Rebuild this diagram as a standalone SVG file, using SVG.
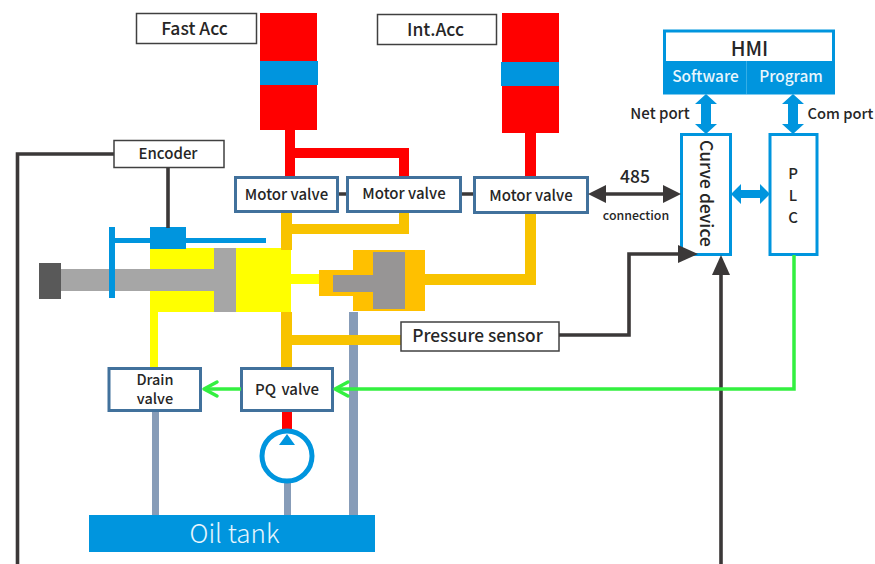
<svg xmlns="http://www.w3.org/2000/svg" width="875" height="564" viewBox="0 0 875 564">
<style>
text{font-family:"Noto Sans CJK SC","Noto Sans",sans-serif;fill:#262626;text-anchor:middle;font-weight:500}
.bx{fill:#fff;stroke:#404040;stroke-width:1.5}
.mv{fill:#fff;stroke:#41719c;stroke-width:3}
.bl{fill:#fff;stroke:#0095de;stroke-width:3}
.dk{fill:none;stroke:#3b3838;stroke-width:3.600}
.gr{fill:none;stroke:#33f040;stroke-width:3.500}
.or{fill:#f8c300}.re{fill:#f00}.ye{fill:#ff0}.gp{fill:#879cb8}.bu{fill:#0095de}.da{fill:#3b3838}
</style>
<rect width="875" height="564" fill="#fff"/>
<g id="fast-acc-cylinder"><rect class="re" x="260" y="13" width="57" height="117"/><rect class="bu" x="260" y="61" width="58" height="24"/></g>
<g id="int-acc-cylinder"><rect class="re" x="502" y="13" width="57" height="120"/><rect class="bu" x="501" y="62" width="58" height="24"/></g>
<g id="fast-acc"><rect class="bx" x="136.500" y="13.500" width="120" height="30"/><text x="194.500" y="34.500" font-size="17.500">Fast Acc</text></g>
<g id="int-acc"><rect class="bx" x="377.500" y="14.500" width="119" height="30"/><text x="435.500" y="35.500" font-size="17.500">Int.Acc</text></g>
<g id="main-cylinder">
<rect class="ye" x="150" y="248" width="141" height="64"/>
<rect x="291" y="274" width="30" height="10" class="ye"/>
<rect x="214" y="248" width="22" height="64" fill="#a6a6a6"/>
<rect x="61" y="269" width="153" height="22" fill="#a6a6a6"/>
<rect x="39" y="263" width="22" height="36" fill="#595959"/>
<rect class="bu" x="115" y="238" width="151" height="5"/>
<rect class="bu" x="109" y="227" width="6" height="71"/>
<rect class="bu" x="150" y="227" width="36" height="22"/>
</g>
<g id="small-cylinder">
<path fill="#ffc000" d="M319 270H353V250H425V311H353V296H319Z"/>
<path fill="#979595" d="M373 252H405V309H373V292H333V275H373Z"/>
</g>
<g id="connectors">
<path class="dk" d="M114 154H17.500V564"/>
<path class="dk" d="M168 167V228"/>
<path class="dk" d="M338 194H347M461 194H474"/>
<rect class="re" x="285" y="130" width="10" height="47"/>
<path class="re" d="M295 148H409V177H399V158H295Z"/>
<rect class="re" x="525" y="130" width="11" height="47"/>
<rect class="gp" x="349" y="312" width="9" height="203"/>
<path class="or" d="M281 212H292V224H399V212H409V234H292V250H281Z"/>
<path class="or" d="M281 312H292V335H401V345H292V368H281Z"/>
<path class="or" d="M425 274H525V212H536V285H425Z"/>
<rect class="ye" x="150" y="312" width="8" height="56"/>
<rect class="re" x="282" y="411" width="10" height="21"/>
<rect class="gp" x="152" y="411" width="7" height="104"/>
<rect class="gp" x="284" y="481" width="7" height="34"/>
</g>
<g id="encoder"><rect class="bx" x="114" y="140.500" width="110" height="27"/><text x="168" y="159" font-size="15">Encoder</text></g>
<g id="motor-valve-1"><rect class="mv" x="235.500" y="177.500" width="102" height="34"/><text x="286.500" y="200" font-size="15">Motor valve</text></g>
<g id="motor-valve-2"><rect class="mv" x="347.500" y="177.500" width="113" height="34"/><text x="404" y="199" font-size="15">Motor valve</text></g>
<g id="motor-valve-3"><rect class="mv" x="474.500" y="177.500" width="113" height="35"/><text x="531" y="201" font-size="15">Motor valve</text></g>
<g id="pressure-sensor"><rect class="bx" x="401" y="322" width="158" height="29"/><text x="477.500" y="342" font-size="17.300">Pressure sensor</text></g>
<g id="drain-valve"><rect class="mv" x="109" y="368.500" width="91.500" height="42"/><text font-size="14.500"><tspan x="155" y="385">Drain</tspan><tspan x="155" y="404">valve</tspan></text></g>
<g id="pq-valve"><rect class="mv" x="241.500" y="368.500" width="91" height="42"/><text x="287" y="395" font-size="15" word-spacing="2">PQ valve</text></g>
<g id="pump"><circle cx="287" cy="456" r="25" fill="#fff" stroke="#0095de" stroke-width="5"/><path class="bu" d="M287 434L279 445H295Z"/></g>
<g id="oil-tank"><rect class="bu" x="89" y="515" width="286" height="37"/><text x="234.500" y="543" font-size="26" style="fill:#e8f6fd;font-weight:300">Oil tank</text></g>
<g id="hmi">
<rect class="bl" x="664.500" y="31" width="169" height="62"/>
<rect class="bu" x="663" y="61" width="172" height="33"/>
<path d="M746.500 61V94" stroke="#35aee6" stroke-width="1"/>
<text x="749.500" y="56" font-size="20">HMI</text>
<text x="705.500" y="82" font-size="15.400" style="fill:#e8f6fd">Software</text>
<text x="791" y="82" font-size="15.400" style="fill:#e8f6fd">Program</text>
</g>
<g id="curve-device"><rect class="bl" x="681.500" y="134.500" width="49" height="120"/><text transform="translate(700 193.500) rotate(90)" font-size="17.500">Curve device</text></g>
<g id="plc"><rect class="bl" x="770" y="134.500" width="47" height="120"/><text font-size="15"><tspan x="793" y="179">P</tspan><tspan x="793" y="201">L</tspan><tspan x="793" y="223">C</tspan></text></g>
<g id="overlay-connectors">
<path class="dk" d="M559 335H629V254H680"/>
<path class="da" d="M678 245L698 254L678 263Z"/>
<path class="dk" d="M721 564V272"/>
<path class="da" d="M721 255L730 275H712Z"/>
<path class="dk" d="M605 194H664"/>
<path class="da" d="M588 194L606 185V203Z M681 194L663 185V203Z"/>
<path class="gr" d="M794 255V389H336"/>
<path class="gr" stroke-linecap="round" stroke-linejoin="round" d="M348 382L335 389L348 396"/>
<path class="gr" d="M241 389H206"/>
<path class="gr" stroke-linecap="round" stroke-linejoin="round" d="M217 382L204 389L217 396"/>
<path class="bu" d="M706 94L717 104H711V124H717L706 134L695 124H701V104H695Z"/>
<path class="bu" d="M793 94L804 104H798V124H804L793 134L782 124H788V104H782Z"/>
<path class="bu" d="M731 194L741 184V190H760V184L770 194L760 204V198H741V204Z"/>
</g>
<text x="660" y="119" font-size="15">Net port</text>
<text x="840.500" y="119" font-size="14.700">Com port</text>
<text x="635" y="183" font-size="17.500">485</text>
<text x="636" y="220" font-size="12.400">connection</text>
</svg>
